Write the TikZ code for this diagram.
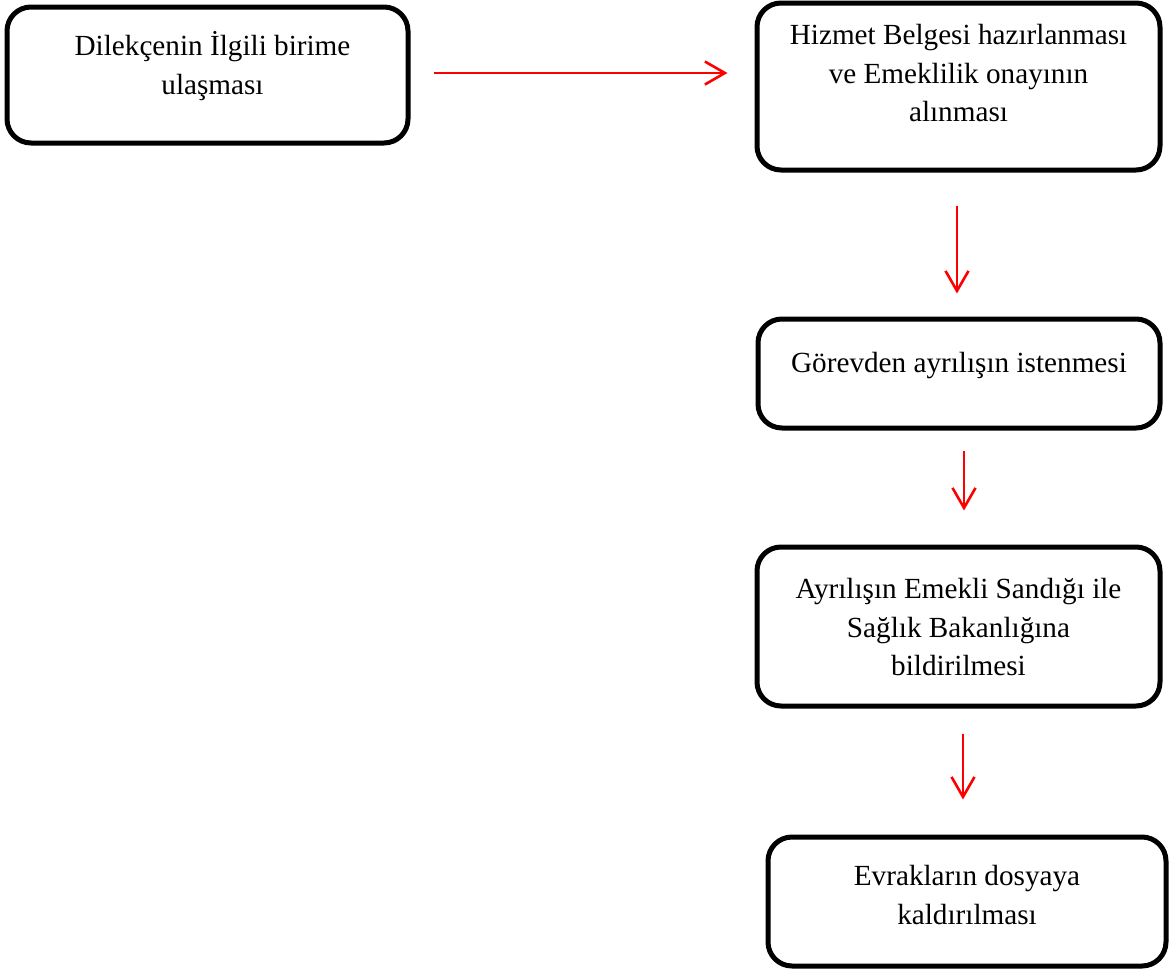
\documentclass[tikz,border=0pt]{standalone}
\usepackage{fontspec}
\setmainfont{Liberation Serif}
\usetikzlibrary{arrows.meta}

\begin{document}
\begin{tikzpicture}[x=1pt, y=-1pt,
  stepbox/.style={draw=black, line width=5pt, rounded corners=24pt,
    inner sep=0pt, fill=white},
  txt/.style={anchor=north, align=center, inner sep=0pt,
    font=\fontsize{29.2}{38.5}\selectfont},
  flow/.style={draw=red, line width=2.6pt,
    -{Straight Barb[length=20pt, width=23pt]}}]

  % page frame
  \useasboundingbox (0,0) rectangle (1171,970);

  % process boxes
  \node[stepbox, minimum width=401pt, minimum height=136pt] (b1) at (207.5,75) {};
  \node[stepbox, minimum width=403pt, minimum height=167pt] (b2) at (958.5,86.5) {};
  \node[stepbox, minimum width=402pt, minimum height=109pt] (b3) at (959,373.5) {};
  \node[stepbox, minimum width=403pt, minimum height=159pt] (b4) at (958.5,626.5) {};
  \node[stepbox, minimum width=398pt, minimum height=129pt] (b5) at (967,901.5) {};

  % box texts
  \node[txt] (t1) at ([shift={(5pt,-24pt)}]b1.north) {\strut Dilekçenin İlgili birime\\ulaşması};
  \node[txt] (t2) at ([yshift=-17pt]b2.north) {\strut Hizmet Belgesi hazırlanması\\ve Emeklilik onayının\\alınması};
  \node[txt] (t3) at ([yshift=-29pt]b3.north) {\strut Görevden ayrılışın istenmesi};
  \node[txt] (t4) at ([yshift=-27pt]b4.north) {\strut Ayrılışın Emekli Sandığı ile\\Sağlık Bakanlığına\\bildirilmesi};
  \node[txt] (t5) at ([yshift=-24pt]b5.north) {\strut Evrakların dosyaya\\kaldırılması};

  % connectors
  \coordinate (h0) at ([shift={(23pt,2pt)}]b1.east);
  \coordinate (h1) at ([xshift=-27pt]b2.west);
  \draw[flow] (h0) -- (h1 |- h0);

  \coordinate (v1s) at ([shift={(-1.5pt,-33pt)}]b2.south);
  \coordinate (v1e) at ([yshift=23pt]b3.north);
  \draw[flow] (v1s) -- (v1s |- v1e);

  \coordinate (v2s) at ([shift={(5pt,-20pt)}]b3.south);
  \coordinate (v2e) at ([yshift=34pt]b4.north);
  \draw[flow] (v2s) -- (v2s |- v2e);

  \coordinate (v3s) at ([shift={(4.5pt,-25pt)}]b4.south);
  \coordinate (v3e) at ([yshift=35pt]b5.north);
  \draw[flow] (v3s) -- (v3s |- v3e);
\end{tikzpicture}
\end{document}
